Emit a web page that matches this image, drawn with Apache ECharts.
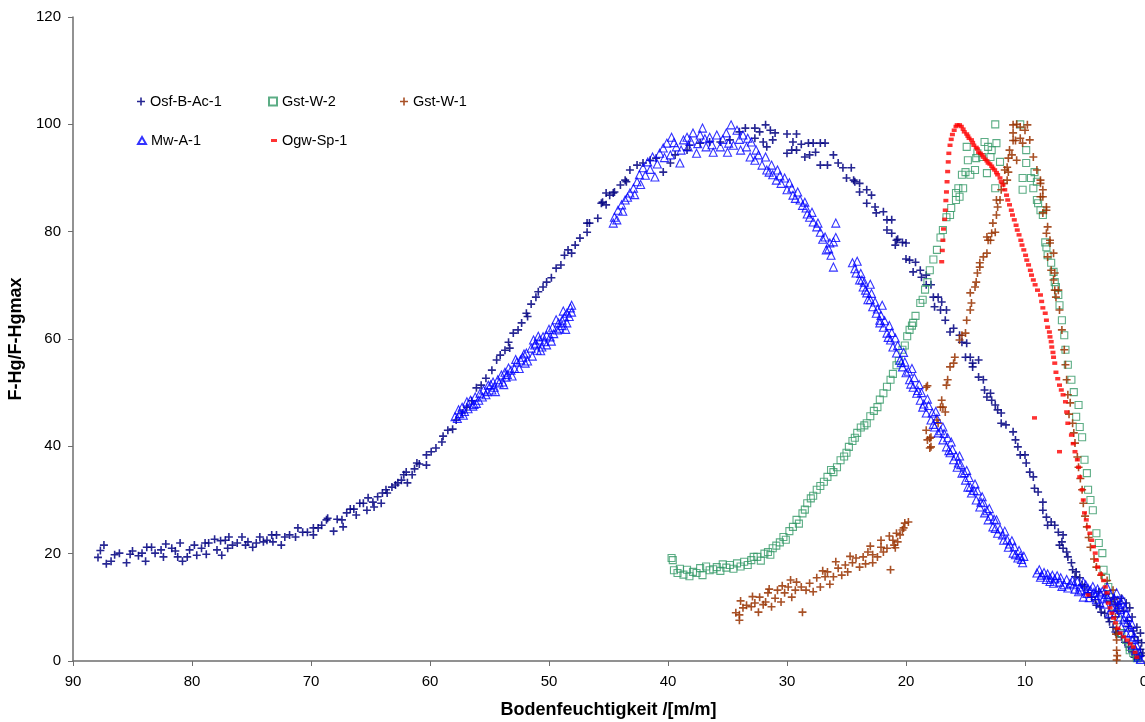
<!DOCTYPE html>
<html>
<head>
<meta charset="utf-8">
<script src="https://cdn.jsdelivr.net/npm/echarts@6/dist/echarts.min.js"></script>
<style>
  html, body { margin: 0; padding: 0; background: #ffffff; }
  #chart { width: 1145px; height: 722px; }
</style>
</head>
<body>
<div id="chart"></div>
<script>
// Soil moisture (x) against normalised F-Hg ratio (y), one point set per sample.
const xTicks = [0, 10, 20, 30, 40, 50, 60, 70, 80, 90];
const yTicks = [0, 20, 40, 60, 80, 100, 120];
const seriesNames = ['Osf-B-Ac-1', 'Gst-W-2', 'Gst-W-1', 'Mw-A-1', 'Ogw-Sp-1'];

// Osf-B-Ac-1: [Bodenfeuchtigkeit, F-Hg/F-Hgmax]
const osfBAc1 = [
  [87.9,19.3],[87.7,20.6],[87.4,21.6],[87.2,18.1],[86.8,18.6],[86.5,19.8],[86.1,20.1],[85.5,18.3],[85.2,19.9],[85,20.5],
  [84.5,19.6],[84.2,20.1],[83.9,18.6],[83.8,21.2],[83.4,21.2],[83.1,20.1],[82.6,20.7],[82.4,19.4],[82.2,21.8],[81.7,21],
  [81.4,20.5],[81.2,19.4],[81,22],[80.8,18.6],[80.4,19.4],[80.2,20.7],[79.8,21.6],[79.6,19.7],[79.2,21],[78.9,22],
  [78.8,19.9],[78.6,22],[78.1,22.7],[77.9,20.7],[77.6,22.4],[77.5,19.7],[77.2,22.5],[77,21],[76.9,23.1],[76.6,21.6],
  [76.2,22],[75.8,23.1],[75.5,21.6],[75.3,22.2],[74.9,21.2],[74.6,22],[74.3,23.1],[74,22.2],[73.7,22.5],[73.3,23.5],
  [73.2,22.2],[72.9,23.5],[72.5,21.6],[72.2,23.1],[71.8,23.5],[71.3,23.1],[71.1,24.8],[70.7,24],[70.3,24],[69.8,24.8],
  [69.8,23.5],[69.4,24.8],[69.1,25.3],[68.7,26.3],[68.6,26.6],[68.1,24.2],[67.8,26.4],[67.4,26.3],[67.3,25],[67,27.6],
  [66.7,28.3],[66.4,28.3],[66.2,27.2],[65.9,29.4],[65.6,29.4],[65.3,28.1],[65.2,30.4],[64.8,29.6],[64.7,28.7],[64.4,30.6],
  [64.1,29.4],[64,31.3],[63.7,31.9],[63.6,31.3],[63.2,32.4],[62.9,32.8],[62.7,33.2],[62.4,33.7],[62.2,34.7],[61.9,33.2],
  [62,35.2],[61.5,34.7],[61.3,35.8],[61.1,36.9],[60.9,36.7],[60.3,36.5],[60.3,38.4],[59.9,39],[59.5,39.7],[59,40.8],
  [58.9,41.9],[58.5,43],[58.1,43.2],[57.8,44.9],[57.3,46.2],[56.9,47.3],[56.5,48.5],[56.1,50.9],[55.7,51.4],[55.3,52.7],
  [54.8,54.2],[54.4,56.1],[54.1,57],[53.7,57.9],[53.3,58.3],[53.4,59.4],[53,61.1],[52.6,61.7],[52.3,63],[51.9,64.8],
  [51.8,64.2],[51.5,66.5],[51.1,67.8],[50.9,68.8],[50.5,69.7],[50.2,70.6],[49.8,71.4],[49.4,73.2],[49,73.8],[48.7,75.6],
  [48.4,76.6],[48.1,76],[47.8,77.5],[47.4,78.8],[46.8,79.9],[46.8,81.6],[46.6,81.6],[45.9,82.5],[45.6,85.3],[45.2,85],
  [44.9,86.8],[44.6,87.2],[44,88.7],[43.5,89.3],[45.5,85.5],[45.2,87.2],[44.5,87.4],[43.6,89.6],[43.2,91.5],[42.6,92.4],
  [42.1,92.8],[41.5,93.3],[41,93.7],[40.4,91.1],[39.8,92.8],[39.4,94.3],[38.4,95.2],[38.2,96.1],[37.3,96.5],[36.5,96.7],
  [35.6,96.7],[34.8,97.1],[34,98.6],[33.5,99.3],[32.7,99.3],[32.3,98.6],[31.8,99.9],[31.4,98.9],[31,98.4],[32.7,97.4],
  [32,96.7],[31.7,95.8],[31.2,97.1],[30,98.2],[29.2,98.2],[29.5,96.7],[29.6,95.2],[30,94.6],[29.2,95.2],[28.8,96.3],
  [28.2,96.5],[27.8,96.5],[27.2,96.5],[26.8,96.5],[28.5,93.9],[28.1,94.3],[27.6,94.8],[27.2,92.4],[26.6,92.4],[26.1,94.3],
  [25.7,92.8],[25.3,91.9],[25,90],[24.6,91.9],[24.4,89.6],[24.3,89.3],[23.9,89],[23.9,87.4],[23.3,87.8],[22.9,86.8],
  [23.3,85.3],[22.6,84.6],[22.5,83.5],[21.9,83.7],[21.6,82.2],[21.2,82.2],[21.6,80.3],[21.2,79.7],[20.8,78.4],[20.7,78.6],
  [20.3,78],[20,77.9],[20.9,77.5],[20,74.9],[19.7,74.7],[19.2,74.3],[19.4,72.5],[18.8,72.8],[18.7,71.5],[18.3,71.9],
  [18.3,70.1],[17.9,70.1],[17.7,67.8],[17.3,67.8],[17.6,66],[17,66.9],[17.1,65.4],[16.6,65.4],[16.7,63.5],[16.3,61.3],
  [16,62],[15.5,60.7],[15.3,59.4],[14.9,59.2],[15,56.6],[14.6,56.6],[14.4,55.5],[13.9,56.1],[14.4,54.8],[13.9,52.9],
  [13.5,52.4],[13.4,50.5],[12.9,49.9],[13.2,49.2],[12.8,48.6],[12.5,47.7],[12.3,46.8],[12,46.2],[12,44.3],[11.6,44],
  [11,42.7],[10.8,41.2],[10.6,39.9],[10.4,38.4],[10,38.4],[9.9,36.9],[9.6,35.2],[9.3,34.3],[9.2,32.2],[8.9,31.5],
  [8.5,29.6],[8.5,28.1],[8.2,26.8],[7.8,25.9],[8.1,25.3],[7.5,25.3],[7.2,24],[6.8,23.5],[7.1,21.6],[6.9,22.2],
  [6.8,21],[6.5,20.3],[6.4,19.4],[6.1,18.3],[6,17],[5.7,16.6],[5.8,15.7],[5.4,15.5],[5.2,14.2],[5,13.8],
  [4.7,12.7],[4.4,11.9],[4.1,11.4],[4,10.4],[3.7,10.1],[3.6,9.1],[3.3,8.9],[3,8],[2.9,7.3],[2.6,6.3],
  [2.4,5.4],[2.2,5.2],[1.9,4.5],[1.6,3.5],[1.3,2.6],[1,1.7],[0.8,0.7],[0.6,0.4],[1.9,11.7],[1.5,10.8],
  [1.2,9.9],[1,8.2],[0.6,6.3],[0.3,5.2],[0.2,3.4],[0.1,1.5],[2.5,11.8],[3.2,12.4],[2.2,10.5],[1.7,9.3],
  [1.4,7.5],[0.9,5.6],[0.5,3.8],[0.3,2.2],[0.4,0.8],[3.8,12.9],[2.8,11.1],[1.3,6.4],[0.8,4.5],[0.2,1]
];

// Gst-W-2
const gstW2 = [
  [39.7,19.2],[39.6,18.8],[39.5,16.9],[39.2,16.4],[39,17.2],[38.7,16.1],[38.4,17],[38.2,15.8],[37.9,16.6],[37.6,16.4],
  [37.3,17.3],[37.1,16],[36.8,17.6],[36.5,16.9],[36.2,17.1],[35.9,17.5],[35.6,16.8],[35.4,18],[35.1,17.4],[34.8,17.9],
  [34.5,17.2],[34.2,18.2],[33.9,17.6],[33.6,18.5],[33.3,17.9],[33,18.8],[32.8,19.4],[32.5,19.4],[32.2,18.7],[31.9,20],
  [31.6,20.3],[31.4,19.8],[31.2,21],[30.9,21.5],[30.6,22.1],[30.3,23.1],[30.1,22.6],[29.8,24.2],[29.5,25],[29.2,26.3],
  [29,25.6],[28.7,27.5],[28.5,28.2],[28.3,29.4],[28,30.3],[27.8,30.8],[27.5,31.9],[27.2,32.6],[26.9,33.4],[26.6,34.3],
  [26.3,35.6],[26.1,35.2],[25.8,36.1],[25.5,37.4],[25.2,38.1],[25,38.8],[24.8,39.9],[24.5,41],[24.3,41.6],[24.1,42.5],
  [23.8,43.5],[23.5,43.9],[23.3,44.3],[23,45.6],[22.7,46.6],[22.4,47.3],[22.2,48.7],[21.9,49.9],[21.6,51.1],[21.3,52.4],
  [21.1,53.5],[20.8,55.1],[20.6,55.9],[20.3,58],[20.1,58.8],[19.9,60.5],[19.7,61.7],[19.5,62.5],[19.4,63],[19.2,64.3],
  [18.8,66.7],[18.6,67.3],[18.4,69.2],[18.2,70.6],[18,72.8],[17.7,74.8],[17.4,76.6],[17.1,78.9],[16.9,80.3],[16.6,82.7],
  [16.3,83.1],[16.2,84.4],[15.8,85.9],[15.8,87.2],[15.5,86.5],[15.6,88.1],[15.2,88.1],[15.3,90.6],[15,91.1],[14.8,93.3],
  [14.6,90.6],[14.9,95.8],[14.2,91.5],[14.1,93.7],[14,94.6],[13.6,93.9],[13.4,96.7],[13.1,95.8],[12.8,95.2],[12.9,93.9],
  [13.2,90.9],[12.5,100],[12.4,96.5],[12.1,93],[12.5,88.1],[10.4,100],[10.2,87.8],[10.2,90],[9.9,95.2],[9.9,92.8],
  [9.5,90],[9.3,88.1],[9.2,91.1],[9,89.3],[9,85.9],[8.9,85.3],[8.7,84],[8.5,83.1],[8.3,78],[8.2,77.1],
  [8.1,75.6],[7.8,74.2],[7.6,72.5],[7.5,70.6],[7.4,69.7],[7.2,68.2],[7.1,66.3],[6.9,63.5],[6.7,60.7],[6.6,58],
  [6.4,55.2],[6.1,52.4],[5.9,50.1],[5.5,47.7],[5.4,43.6],[5.2,41.7],[5,37.5],[4.8,35],[4.7,31.9],[4.3,28.1],
  [4,23.8],[3.5,20.1],[3.4,17],[3,13.8],[2.9,11.9],[2.6,10.1],[2.2,7.6],[1.9,5.2],[1.5,3.9],[1.2,2.6],
  [0.9,1.5],[0.6,0.7],[2,5.2],[1.2,2],[0.6,0.5],[5.7,45.5],[4.5,30],[3.8,22],[3.2,15.5],[2.4,8.8]
];

// Gst-W-1
const gstW1 = [
  [34.3,9],[34,7.6],[34,8.6],[33.7,9.9],[33.4,10.4],[33,10.1],[32.7,10.8],[32.4,9.1],[32.3,11.9],[31.8,11],
  [31.6,12.7],[31.3,10.1],[31,11.7],[30.8,13.2],[30.5,11],[30.2,12.7],[29.9,13.8],[29.6,11.9],[29.3,13.2],[29.2,14.7],
  [28.7,9.1],[28.8,13.8],[28.4,13.2],[28.1,14.5],[27.8,12.9],[27.5,15.5],[27.2,13.8],[26.8,15.7],[26.6,16.6],[26.1,15.7],
  [25.7,17.3],[25.4,16],[25.1,17.9],[24.9,16.6],[24.5,18.3],[24.2,19.2],[23.9,17.5],[23.6,19.4],[23.2,20.3],[22.8,18.3],
  [22.8,19.8],[22.4,19.4],[22.1,21.2],[21.6,21],[21.3,17],[21.1,22.5],[21,21.6],[20.8,23.8],[20.5,23.5],[20.3,24.4],
  [20.1,25.7],[19.8,25.9],[20.7,22.2],[22.1,22.5],[33.9,11.2],[32.9,12],[32,10.5],[31.5,13.4],[30.4,14],[29.7,15.1],
  [27,16.8],[26.4,14.3],[25.9,18.5],[24.7,19.5],[23.4,18.1],[23,21.4],[21.9,20.3],[21.4,23.3],[20.9,21.1],[20.2,24.8],
  [18.3,51],[18.2,51.3],[17,48.6],[16.9,47.3],[16.7,46.4],[18.3,43],[18.2,41.2],[17.9,41.7],[17.4,44.9],[17.3,44.3],
  [18,39.7],[17.9,39.9],[18,41.5],[17.1,47.3],[16.6,51.4],[16.5,52.4],[16.3,54.8],[16,55.5],[15.9,56.6],[15.5,59.8],
  [15.3,60.7],[15,61.1],[14.9,63.5],[14.6,65.4],[14.5,66.7],[14.2,69.7],[14.1,70.6],[14,72.3],[13.8,74.2],[13.5,75.3],
  [13.2,76],[13.1,78.4],[12.8,79.7],[12.7,81.6],[14.6,68.6],[13.8,73.4],[13.2,79],[12.5,79.9],[12.9,78.4],[12.4,83.1],
  [12.3,84.6],[12.1,85.9],[12,87.8],[12.4,85.9],[11.8,89],[11.5,89.6],[11.4,91.1],[11.7,91.5],[11.5,92],[11.4,93.7],
  [11.3,95.2],[11.1,94.3],[10.7,93.3],[11,97],[11,98.4],[11,99.9],[10.7,100],[10.8,97],[10.4,99.5],[10.4,97.4],
  [10.2,96.5],[10,98.9],[9.8,99.9],[9.6,97.1],[9.3,93.9],[9,91.5],[8.7,89.6],[8.7,89],[8.5,87.8],[8.7,86.5],
  [8.5,86.5],[8.2,84.6],[8.2,84],[8.5,83.5],[8.1,80.9],[8.2,79.7],[7.9,78.4],[7.9,77.9],[7.6,76],[8.1,75.3],
  [7.8,72.8],[7.5,72.3],[7.6,71],[7.5,69.1],[7.2,69.1],[7.4,67.8],[7.1,65.4],[6.9,61.7],[6.7,58],[6.6,55.2],
  [6.5,52.4],[6.4,49.6],[6.2,48.1],[6.3,46],[6,44.3],[5.9,42.5],[5.8,40.6],[5.6,38],[5.5,36.1],[5.35,34],
  [5.2,31.9],[5.1,29.4],[4.95,27],[4.8,25],[4.65,23],[4.5,21.2],[4.2,19],[4,17.5],[3.6,16],[3.1,15],
  [2.6,13.2],[2.5,11.5],[2.4,10.5],[2.2,9.3],[2.4,8.2],[2.3,6],[2.35,5],[2.3,3.9],[2.3,2],[2.25,1],[2.3,0.2]
];

// Mw-A-1
const mwA1 = [
  [57.9,45.5],[57.6,46.8],[57.5,46.1],[57.3,47.3],[57.1,46.5],[56.9,48.3],[56.6,48.6],[56.4,47.5],[56.2,49.2],[56.1,48],
  [55.8,49.9],[55.5,50.5],[55.3,49.6],[55.1,51.4],[54.8,50.5],[54.7,52],[54.6,51],[54.3,52.4],[54,53.3],[53.9,52],
  [53.7,53.8],[53.6,52.9],[53.4,54.6],[53.2,54.2],[52.9,54.5],[52.7,55.7],[52.4,56.1],[52.2,56.6],[52,55.5],[51.9,57.4],
  [51.5,58.3],[51.2,58.9],[51,57.9],[50.8,59.8],[50.6,58.5],[50.5,60.4],[50.2,60.7],[50.2,58.9],[49.9,60.4],[49.7,62.2],
  [49.3,61.7],[49.2,63],[48.9,63.5],[48.9,62.5],[48.7,64.1],[48.5,64.8],[48.5,63],[48.2,65.8],[48.1,65],
  [57.7,45.2],[57.2,45.8],[56.8,47],[56.3,47.8],[55.9,48.6],[55.6,49.2],[55.2,50.2],[54.9,51.5],[54.5,50.2],[54.2,51.8],
  [53.8,51.5],[53.5,53.4],[53.1,53.1],[52.8,56.2],[52.5,54.5],[52.1,57.2],[51.8,55.9],[51.4,56.8],[51.3,59.8],[51.1,59.2],
  [50.9,60.5],[50.7,57.8],[50.4,59.5],[50,61.8],[49.8,59.6],[49.6,61],[49.4,63.6],[49.1,62],[48.8,65.2],[48.6,61.8],
  [48.3,64.2],[48.1,66.3],
  [44.6,81.6],[44.5,82.7],[44.2,84],[43.9,85],[43.6,85.9],[43.2,87.2],[42.9,88.1],[42.6,89.3],[42.4,90.6],[42.1,91.9],
  [41.7,93],[41.3,93.9],[41.1,90.2],[40.7,94.6],[40.4,95.6],[40.1,96.5],[39.7,97.6],[39.8,94.3],[39.3,95.8],[39,92.8],
  [38.7,97.1],[38.4,97.6],[38.3,95.8],[37.9,98.4],[37.6,94.6],[37.3,98],[37.1,99.3],[36.8,95.8],[36.5,97.6],[36.2,94.8],
  [35.9,98],[35.6,95.8],[35.1,98.4],[35,94.8],[34.7,99.9],[34.5,96.1],[34.2,98.9],[33.9,95.2],[33.7,98],[33.4,95.8],
  [33.1,93.9],[33,96.7],[32.7,93.3],[32.6,95.2],[32.1,92.4],[31.8,93.9],[31.7,91.5],[31.3,92.4],[31.2,90.6],[30.8,91.5],
  [30.9,89.6],[30.5,89],[30.2,90],[30,87.8],[29.6,88.1],[29.5,86.8],[29.1,87.4],[28.9,85.9],[28.5,85.5],[28.4,84.4],
  [28.1,82.7],[27.8,81.8],[27.5,80.9],[27.2,79.9],[26.8,79],[26.4,77.9],[26.1,78.1],[26.7,76.6],[26.3,75.6],[26.1,73.4],
  [25.9,81.6],[25.9,78.9],
  [44.3,82.2],[43.8,83.8],[43.4,86.4],[42.8,86.9],[42.3,88.8],[41.9,90.5],[41.5,91.6],[40.9,92.6],[40.3,93.8],[39.5,96.6],
  [38.9,95.2],[38.1,96.9],[37.5,96.4],[36.9,97.3],[36.3,96.2],[35.4,97.2],[34.9,96.5],[34,97.2],[33.3,97.4],[32.4,94.3],
  [31.5,91.1],[30.6,90.4],[29.8,89.1],[29.3,86.2],[28.7,84.9],[28.3,83.3],[27.9,83.6],[27.4,81.6],[27,78.6],[26.5,76.8],
  [24.5,74.2],[24.2,72.3],[24.1,74.5],[23.9,71],[23.7,71],[23.6,69.7],[23.4,69.1],[23.3,68.6],[23.2,67.3],[23,70.2],
  [23,67.3],[22.8,66],[22.5,64.8],[22.2,63],[22.2,63.5],[22,66.3],[21.9,62.2],[21.6,61.1],[21.4,62.5],[21.3,59.8],
  [21.1,58.5],[20.9,60.2],[20.8,57.4],[20.5,56.1],[20.3,54.8],[20.2,57.5],[20,53.7],[19.7,52.4],[19.5,54.5],[19.4,51],
  [19.1,49.9],[18.9,51.5],[18.8,48.6],[18.6,47.3],[18.3,46.2],[18.2,48.8],[17.9,44.9],[17.6,43.6],[17.5,46.5],[17.3,42.5],
  [16.9,41.2],[16.9,43.6],[16.6,39.9],[16.3,38.8],[16.2,40.8],[16,37.5],[15.7,36.1],[15.5,38.2],[15.3,35],[15,33.7],
  [14.9,35.5],[14.8,32.4],[14.5,31.3],[14.2,33],[14.1,30],[13.8,28.7],[13.6,30.6],[13.4,27.6],[13.1,26.3],[13,28.4],
  [12.7,25],[12.4,26.3],[12.3,23.8],[11.8,22.5],[11.7,24.2],[11.4,21.2],[11.1,22.4],[11,20.1],[10.6,19.2],[10.5,20.6],
  [10.2,18.3],[10.1,19.5],
  [24.3,73.1],[23.8,72.2],[23.5,70.6],[22.9,68.5],[22.6,66.9],[22.4,65.6],[22.1,64.4],[21.8,63.4],[21.5,60.3],[21.2,61.2],
  [20.7,58.8],[20.4,55.6],[20.1,55.7],[19.8,54],[19.6,51.6],[19.3,52.8],[19,50.4],[18.7,50],[18.5,47.9],[18.1,47.6],
  [17.8,46.2],[17.7,44.1],[17.4,45.2],[17.1,42.9],[16.8,42.4],[16.5,41.6],[16.4,39.2],[16.1,39.4],[15.8,38.2],[15.6,36.9],
  [15.4,36.6],[15.1,35.1],[14.7,34.2],[14.6,32.4],[14.3,31.8],[14,31.7],[13.7,29.6],[13.5,29.5],[13.2,28],[12.9,27],
  [12.6,26.4],[12.5,24.7],[12.1,24.6],[11.9,23.5],[11.5,22.6],[11.3,21.8],[10.9,21.3],[10.8,19.8],[10.4,19.6],[10.3,18.9],
  [9,16.4],[8.6,16],[8.2,15.2],[7.9,15.5],[7.9,14.8],[7.5,15.3],[7.1,14.7],[6.7,14.2],[6.2,14.5],[5.8,13.4],
  [5.4,13.8],[5.1,14.7],[5.1,11.9],[4.8,12.6],[4.5,13.2],[4.1,12.2],[3.7,12.7],[3.7,10.8],[3.4,11.6],[3.1,11.9],
  [3.1,13.8],[2.9,8.9],[2.6,11],[2.3,12.7],[2.3,9.9],[2.1,10.5],[2,8.2],[1.8,11.4],[1.9,6.3],[1.5,8.9],
  [1.5,5.2],[1.2,6.3],[1,4],[0.9,3],[0.7,2],[0.5,0.7],[0.3,0.3],
  [8.8,17],[8.7,15.6],[8.4,16.5],[8.1,16.2],[7.7,16],[7.6,14.5],[7.3,15.9],[7,15.5],[6.9,13.9],[6.5,15.2],
  [6.4,13.6],[6,15],[5.9,14.2],[5.6,14.8],[5.5,12.9],[5.3,13.2],[4.9,14.2],[4.7,13.5],[4.6,11.8],[4.3,13.9],
  [4.2,12.8],[4,11.4],[3.9,13.4],[3.5,13],[3.3,10.6],[3.2,12.4],[2.8,12.3],[2.7,10],[2.5,11.6],[2.4,9],
  [2.2,11.3],[2,9.6],[1.9,10.8],[1.7,7.8],[1.6,9.9],[1.4,7.2],[1.3,8.1],[1.1,5.3],[1,6.8],[0.8,4.5],
  [0.6,2.8],[0.4,1.6]
];

// Ogw-Sp-1
const ogwSp1 = [
  [17,74.4],[16.95,76.5],[16.9,78.4],[16.85,80.5],[16.75,82.3],[16.7,84],[16.65,85.8],[16.6,87.4],[16.55,89.3],[16.5,91.2],
  [16.45,93],[16.4,94.6],[16.3,96.1],[16.2,97.2],[16.1,98.1],[15.95,98.9],[15.8,99.6],[15.7,99.9],[15.5,99.9],[15.35,99.6],
  [15.2,99.1],[15.1,98.6],[14.9,98.2],[14.8,97.8],[14.7,97.4],[14.5,97.1],[14.4,96.6],[14.3,96.1],[14.1,95.7],[14,95.4],
  [13.9,94.8],[13.75,94.6],[13.6,94.3],[13.5,93.9],[13.35,93.5],[13.2,93.2],[13.1,92.8],[12.95,92.6],[12.8,92.2],[12.7,91.8],
  [12.55,91.5],[12.4,91],[12.3,90.6],[12.1,90],[12,89.3],[11.85,88.7],[11.7,87.8],[11.55,86.8],[11.45,85.9],[11.3,85],
  [11.15,84],[11.05,83.1],[10.9,82.2],[10.75,81.2],[10.65,80.3],[10.5,79.4],[10.35,78.4],[10.25,77.5],[10.1,76.6],[9.95,75.6],
  [9.85,74.7],[9.7,73.8],[9.55,72.8],[9.45,71.9],[9.3,71],[9.15,70.1],[8.95,69.1],[8.7,68.2],[8.6,67],[8.5,65.8],
  [8.3,64.8],[8.2,63.5],[8.1,62.2],[7.95,61.3],[7.9,60.4],[7.8,59.5],[7.75,58.5],[7.65,57.5],[7.6,56.6],[7.5,55.5],
  [7.4,53.8],[7.25,52.6],[7.1,51.4],[6.95,50.5],[6.8,49.6],[6.6,48.3],[6.5,46.4],[6.4,44.3],[6.1,42.1],[5.95,40.5],
  [5.8,39],[5.6,37.5],[5.5,36.1],[5.4,34.3],[5.2,31.9],[5.1,30],[5,27.6],[4.85,26.3],[4.7,25],[4.55,23.8],
  [4.4,22.5],[4.25,21.3],[4.1,20.1],[4,18.8],[3.9,17.5],[3.65,16.2],[3.4,15],[3.25,13.8],[3.1,12.7],[3,10.8],
  [2.85,9.9],[2.7,8.9],[2.55,8],[2.4,7.1],[2.2,6.1],[2,5.2],[1.7,4.5],[1.4,3.9],[1.15,3.2],[0.9,2.6],
  [0.75,1.6],[0.6,0.7],[9.2,45.3],[7.1,39],[4.7,12.3]
];

const FONT = '"Liberation Sans", Arial, sans-serif';
const PLUS = 'path://M5.6,0h2.8v5.6h5.6v2.8h-5.6v5.6h-2.8v-5.6h-5.6v-2.8h5.6z';

const chart = echarts.init(document.getElementById('chart'), null, { renderer: 'canvas' });

function legendAt(name, left, top, w, h) {
  return {
    data: [name], left: left, top: top, orient: 'horizontal',
    padding: 0, itemGap: 0, itemWidth: w, itemHeight: h,
    selectedMode: false,
    textStyle: { fontFamily: FONT, fontSize: 14.5, color: '#000000' }
  };
}

const plusSeries = (name, data, color) => ({
  name, type: 'scatter', data, symbol: PLUS, symbolSize: 8,
  itemStyle: { color: color, opacity: 0.85 },
  emphasis: { disabled: true }, animation: false
});
const hollowSeries = (name, data, symbol, size, color) => ({
  name, type: 'scatter', data, symbol, symbolSize: size,
  itemStyle: { color: 'rgba(255,255,255,0)', borderColor: color, borderWidth: 1.1 },
  emphasis: { disabled: true }, animation: false
});

chart.setOption({
  backgroundColor: '#ffffff',
  animation: false,
  grid: { left: 73, right: 1, top: 17, bottom: 61, containLabel: false, outerBoundsMode: 'none' },
  legend: [
    legendAt(seriesNames[0], 137, 94, 8, 8),
    legendAt(seriesNames[1], 268, 94, 8, 8),
    legendAt(seriesNames[2], 400, 94, 8, 8),
    legendAt(seriesNames[3], 137, 133, 8, 7),
    legendAt(seriesNames[4], 271, 133, 6, 3)
  ],
  xAxis: {
    type: 'value', inverse: true,
    min: xTicks[0], max: xTicks[xTicks.length - 1], interval: 10,
    name: 'Bodenfeuchtigkeit /[m/m]', nameLocation: 'middle', nameGap: 40,
    nameTextStyle: { fontFamily: FONT, fontSize: 18, fontWeight: 'bold', color: '#000000' },
    axisLine: { show: true, onZero: false, lineStyle: { color: '#6e6e6e', width: 1.5 } },
    axisTick: { show: true, inside: false, length: 5, lineStyle: { color: '#6e6e6e', width: 1 } },
    axisLabel: { margin: 13, fontFamily: FONT, fontSize: 15, color: '#000000',
      formatter: v => xTicks.includes(v) ? String(v) : '' },
    splitLine: { show: false }
  },
  yAxis: {
    type: 'value',
    min: yTicks[0], max: yTicks[yTicks.length - 1], interval: 20,
    name: 'F-Hg/F-Hgmax', nameLocation: 'middle', nameRotate: 90, nameGap: 46,
    nameTextStyle: { fontFamily: FONT, fontSize: 18, fontWeight: 'bold', color: '#000000' },
    axisLine: { show: true, onZero: false, lineStyle: { color: '#6e6e6e', width: 1.5 } },
    axisTick: { show: true, inside: false, length: 5, lineStyle: { color: '#6e6e6e', width: 1 } },
    axisLabel: { margin: 12, fontFamily: FONT, fontSize: 15, color: '#000000',
      formatter: v => yTicks.includes(v) ? String(v) : '' },
    splitLine: { show: false }
  },
  series: [
    plusSeries(seriesNames[0], osfBAc1, '#000080'),
    hollowSeries(seriesNames[1], gstW2, 'rect', 7, '#339966'),
    plusSeries(seriesNames[2], gstW1, '#993300'),
    hollowSeries(seriesNames[3], mwA1, 'triangle', 8, '#0000ff'),
    {
      name: seriesNames[4], type: 'scatter', data: ogwSp1,
      symbol: 'rect', symbolSize: [5, 3.5],
      itemStyle: { color: '#ff0000' },
      emphasis: { disabled: true }, animation: false
    }
  ]
});
</script>
</body>
</html>
